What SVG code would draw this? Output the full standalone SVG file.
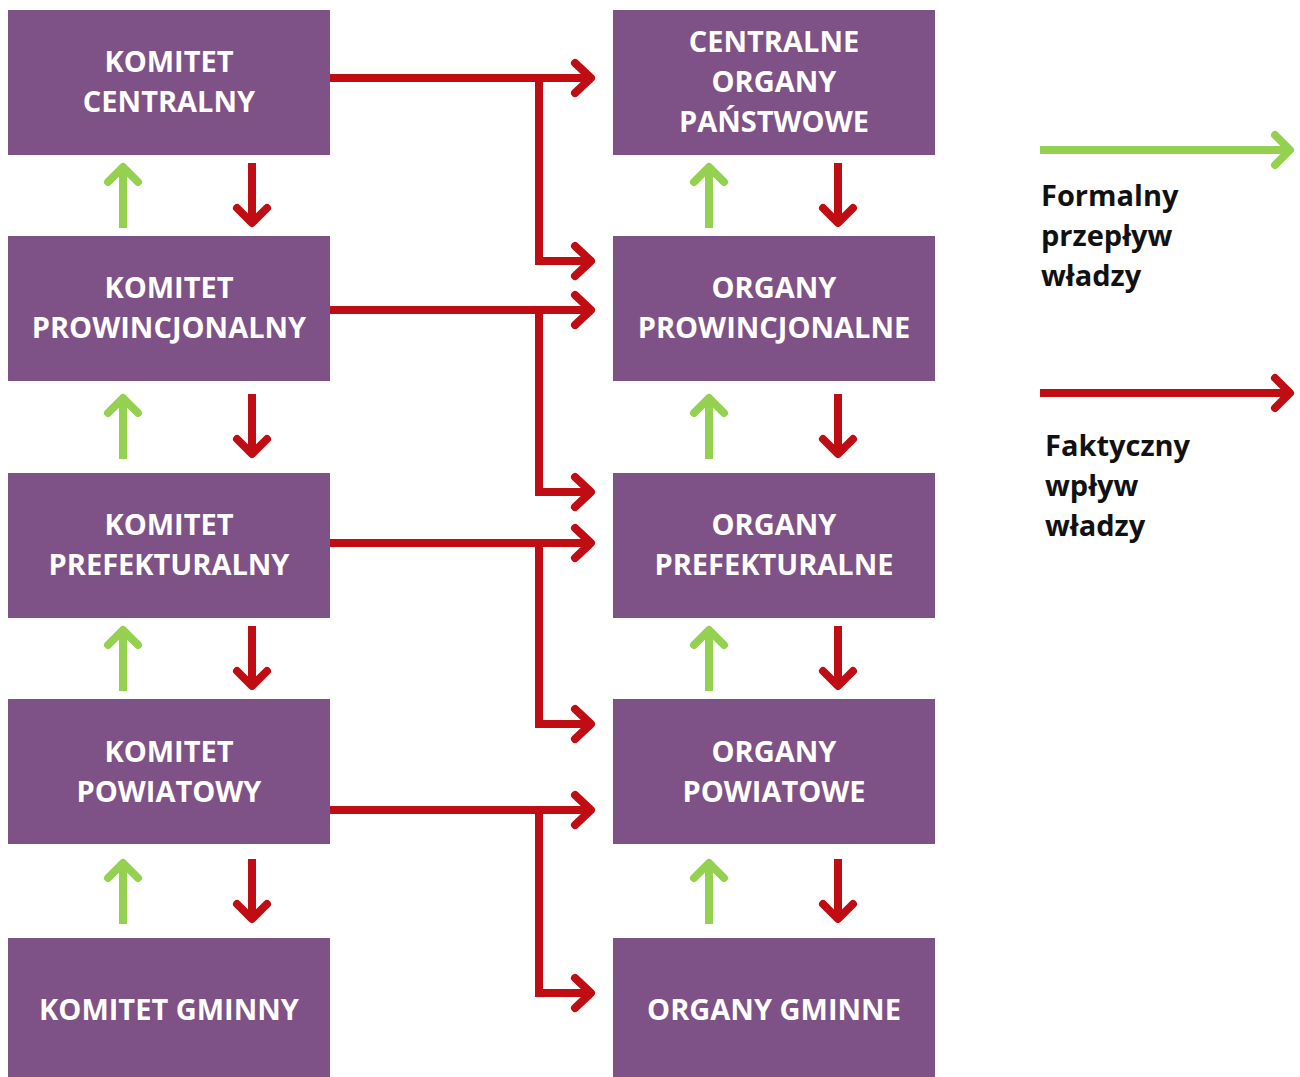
<svg xmlns="http://www.w3.org/2000/svg" width="1300" height="1077" viewBox="0 0 1300 1077">
<defs>
<style>
.box{fill:#7e5286}
.t{fill:#fff;font-family:"Open Sans","Liberation Sans",sans-serif;font-weight:bold;font-size:29px;text-anchor:middle}
.lg{fill:#111;font-family:"Open Sans","Liberation Sans",sans-serif;font-weight:bold;font-size:29px}
.r{stroke:#c00d14;stroke-width:8;fill:none;stroke-linecap:butt}
.g{stroke:#95d150;stroke-width:8;fill:none}
.rh{stroke:#c00d14;stroke-width:8;fill:none;stroke-linecap:round;stroke-linejoin:round}
.gh{stroke:#95d150;stroke-width:8;fill:none;stroke-linecap:round;stroke-linejoin:round}
</style>
</defs>
<rect width="1300" height="1077" fill="#fff"/>
<g id="kc"><rect class="box" x="8" y="10" width="322" height="145"/><text class="t" x="169" y="72">KOMITET</text><text class="t" x="169" y="112">CENTRALNY</text></g>
<g id="kp"><rect class="box" x="8" y="236" width="322" height="145"/><text class="t" x="169" y="298">KOMITET</text><text class="t" x="169" y="338">PROWINCJONALNY</text></g>
<g id="kpr"><rect class="box" x="8" y="473" width="322" height="145"/><text class="t" x="169" y="535">KOMITET</text><text class="t" x="169" y="575">PREFEKTURALNY</text></g>
<g id="kpo"><rect class="box" x="8" y="699" width="322" height="145"/><text class="t" x="169" y="762">KOMITET</text><text class="t" x="169" y="802">POWIATOWY</text></g>
<g id="kg"><rect class="box" x="8" y="938" width="322" height="139"/><text class="t" x="169" y="1020">KOMITET GMINNY</text></g>
<g id="oc"><rect class="box" x="613" y="10" width="322" height="145"/><text class="t" x="774" y="52">CENTRALNE</text><text class="t" x="774" y="92">ORGANY</text><text class="t" x="774" y="132">PAŃSTWOWE</text></g>
<g id="op"><rect class="box" x="613" y="236" width="322" height="145"/><text class="t" x="774" y="298">ORGANY</text><text class="t" x="774" y="338">PROWINCJONALNE</text></g>
<g id="opr"><rect class="box" x="613" y="473" width="322" height="145"/><text class="t" x="774" y="535">ORGANY</text><text class="t" x="774" y="575">PREFEKTURALNE</text></g>
<g id="opo"><rect class="box" x="613" y="699" width="322" height="145"/><text class="t" x="774" y="762">ORGANY</text><text class="t" x="774" y="802">POWIATOWE</text></g>
<g id="og"><rect class="box" x="613" y="938" width="322" height="139"/><text class="t" x="774" y="1020">ORGANY GMINNE</text></g>
<g id="connectors">
<path class="r" d="M330 78H591M539 74V261H591"/>
<path class="rh" d="M575 63L591 78L575 93M575 246L591 261L575 276"/>
<path class="r" d="M330 310H591M539 306V492H591"/>
<path class="rh" d="M575 295L591 310L575 325M575 477L591 492L575 507"/>
<path class="r" d="M330 543H591M539 539V724H591"/>
<path class="rh" d="M575 528L591 543L575 558M575 709L591 724L575 739"/>
<path class="r" d="M330 810H591M539 806V993H591"/>
<path class="rh" d="M575 795L591 810L575 825M575 978L591 993L575 1008"/>
<g id="v1">
<path class="g" d="M123 228V167"/><path class="gh" d="M108 182L123 167L138 182"/>
<path class="r" d="M252 163V223"/><path class="rh" d="M237 208L252 223L267 208"/>
<path class="g" d="M709 228V167"/><path class="gh" d="M694 182L709 167L724 182"/>
<path class="r" d="M838 163V223"/><path class="rh" d="M823 208L838 223L853 208"/>
</g>
<g id="v2">
<path class="g" d="M123 459V398"/><path class="gh" d="M108 413L123 398L138 413"/>
<path class="r" d="M252 394V454"/><path class="rh" d="M237 439L252 454L267 439"/>
<path class="g" d="M709 459V398"/><path class="gh" d="M694 413L709 398L724 413"/>
<path class="r" d="M838 394V454"/><path class="rh" d="M823 439L838 454L853 439"/>
</g>
<g id="v3">
<path class="g" d="M123 691V630"/><path class="gh" d="M108 645L123 630L138 645"/>
<path class="r" d="M252 626V686"/><path class="rh" d="M237 671L252 686L267 671"/>
<path class="g" d="M709 691V630"/><path class="gh" d="M694 645L709 630L724 645"/>
<path class="r" d="M838 626V686"/><path class="rh" d="M823 671L838 686L853 671"/>
</g>
<g id="v4">
<path class="g" d="M123 924V863"/><path class="gh" d="M108 878L123 863L138 878"/>
<path class="r" d="M252 859V919"/><path class="rh" d="M237 904L252 919L267 904"/>
<path class="g" d="M709 924V863"/><path class="gh" d="M694 878L709 863L724 878"/>
<path class="r" d="M838 859V919"/><path class="rh" d="M823 904L838 919L853 904"/>
</g>
</g>
<g id="legend">
<path class="g" d="M1040 150H1290"/><path class="gh" d="M1275 135L1290 150L1275 165"/>
<text class="lg" x="1041" y="206">Formalny</text><text class="lg" x="1041" y="246">przepływ</text><text class="lg" x="1041" y="286">władzy</text>
<path class="r" d="M1040 393H1290"/><path class="rh" d="M1275 378L1290 393L1275 408"/>
<text class="lg" x="1045" y="456">Faktyczny</text><text class="lg" x="1045" y="496">wpływ</text><text class="lg" x="1045" y="536">władzy</text>
</g>
</svg>
